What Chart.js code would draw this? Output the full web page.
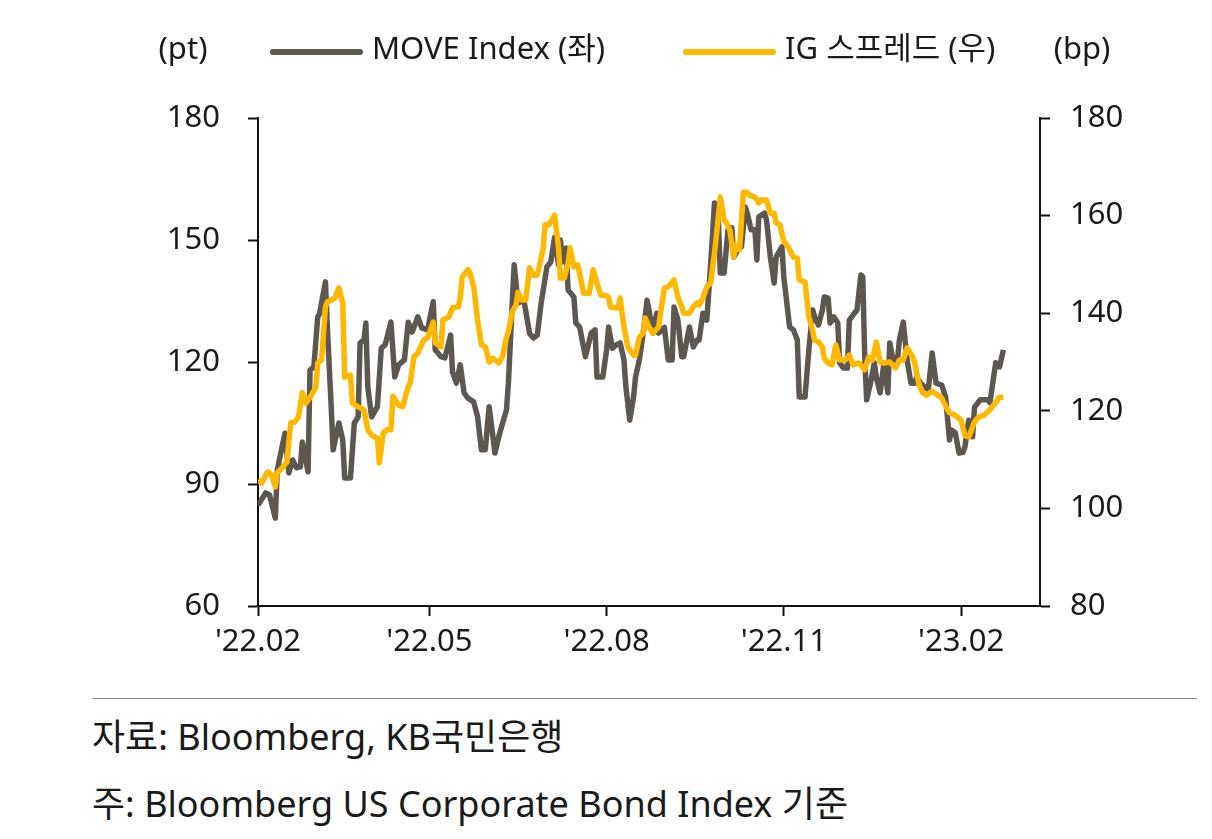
<!DOCTYPE html>
<html lang="ko">
<head>
<meta charset="utf-8">
<script src="https://cdn.jsdelivr.net/npm/chart.js@4.4.1/dist/chart.umd.min.js"></script>
<style>
  body { margin: 0; background: #fff; }
  #wrap { position: relative; width: 1212px; height: 839px; }
  #chart-box { position: absolute; left: 0; top: 0; width: 1212px; height: 690px; }
  #rule { position: absolute; left: 92px; top: 698px; width: 1105px; height: 0; border-top: 1.5px solid #8c8c8c; }
  .note { position: absolute; left: 92px; font-family: "Noto Sans", "Noto Sans CJK KR", sans-serif; font-size: 36px; color: #1a1a1a; white-space: nowrap; }
</style>
</head>
<body>
<div id="wrap">
  <div id="chart-box"><canvas id="chart-line"></canvas></div>
  <div id="rule"></div>
  <div class="note" style="top:708px">자료: Bloomberg, KB국민은행</div>
  <div class="note" style="top:775px">주: Bloomberg US Corporate Bond Index 기준</div>
</div>
<script>
// x = days since 2022-02-01
const tickDays = [0, 89, 181, 273, 365];
const tickLabels = ["'22.02", "'22.05", "'22.08", "'22.11", "'23.02"];

const moveDays = [0, 4, 6, 9, 10, 14, 16, 18, 20, 22, 23, 26, 27, 29, 31, 32, 35, 36, 38, 39,
  42, 44, 45, 48, 50, 52, 53, 55, 56, 57, 59, 62, 64, 66, 69, 71, 73, 76, 78, 80,
  83, 85, 88, 91, 92, 95, 97, 100, 101, 103, 105, 107, 109, 112, 114, 116, 118, 120, 122, 123,
  125, 127, 129, 130, 132, 133, 135, 138, 141, 143, 145, 147, 150, 152, 154, 156, 157, 158, 160, 161,
  164, 165, 167, 169, 170, 173, 175, 176, 179, 181, 182, 184, 186, 188, 190, 191, 193, 195, 196, 198,
  200, 202, 203, 205, 207, 208, 211, 213, 215, 216, 218, 220, 221, 224, 226, 228, 229, 231, 233, 234,
  236, 237, 239, 240, 242, 244, 246, 247, 250, 251, 253, 254, 256, 258, 259, 260, 263, 264, 266, 268,
  269, 271, 272, 273, 276, 278, 280, 281, 284, 286, 288, 289, 291, 293, 294, 296, 297, 299, 301, 302,
  304, 306, 307, 309, 311, 313, 314, 315, 316, 318, 320, 321, 323, 325, 327, 328, 330, 332, 333, 335,
  337, 339, 341, 342, 344, 346, 348, 350, 352, 355, 357, 359, 360, 362, 364, 366, 367, 369, 371, 372,
  375, 377, 379, 380, 383, 385, 387];
const moveValues = [84.8, 87.8, 87.3, 81.6, 93.4, 102.5, 92.7, 95.9, 94, 94.2, 100.3, 93, 118, 118.8, 131, 132, 139.7, 128.6, 109, 98.4,
  105, 100.8, 91.5, 91.5, 105, 106.5, 124.7, 125.4, 129.6, 113.9, 106.5, 109, 123.4, 124.2, 129.8, 116.3, 119.3, 120.5, 129.8, 127.4,
  131.1, 128.4, 127.9, 134.8, 123, 121.3, 121, 126.6, 117.5, 114.8, 119.3, 112.4, 111.1, 110.2, 106.5, 98.4, 98.4, 109, 101.6, 97.6,
  101.6, 105, 108.2, 114.8, 134.5, 143.9, 134.5, 135.3, 127, 125.9, 126.6, 134.5, 143.4, 144.6, 150.7, 143.9, 150, 144.6, 148, 137.7,
  136, 129.6, 128.6, 123.7, 121.3, 127.1, 127.9, 116.3, 116.3, 123, 128.6, 123.4, 124.2, 124.7, 120.5, 113.9, 105.7, 111.4, 116.3, 120.5,
  127.1, 135.2, 132.8, 127.1, 132, 127.1, 128.5, 120.5, 120.5, 133.5, 130.3, 121.3, 121.3, 128.6, 123.7, 125.4, 125.4, 132, 130.3, 137,
  151.2, 159.1, 154.9, 141.9, 141.9, 152.5, 153, 145.8, 148.3, 148.3, 158.1, 156.6, 152.5, 152.5, 145.1, 155.7, 156.6, 154.9, 145.8, 139.4,
  145.8, 147.5, 148.3, 140.9, 128.6, 127.9, 125.4, 111.4, 111.4, 123, 132.8, 131.1, 129.1, 132.8, 136, 135.7, 129.6, 131.1, 129.6, 119.8,
  118.5, 118.5, 130.3, 131.6, 132.8, 141.4, 140.9, 121.3, 110.7, 114.8, 119.8, 116.3, 112.4, 119.8, 112.4, 124.7, 119.8, 120.5, 125.4, 129.8,
  120.5, 114.8, 114.8, 116.3, 114.8, 113.9, 113.2, 122.2, 114.8, 114.3, 111.4, 100.8, 103.3, 102.6, 97.6, 97.8, 99.1, 105.7, 101.6, 108.9,
  110.7, 110.7, 110.7, 110, 119.8, 118.8, 123];

const igDays = [0, 2, 5, 7, 9, 10, 13, 15, 17, 19, 21, 23, 25, 27, 30, 31, 33, 35, 36, 40,
  42, 44, 45, 48, 49, 52, 55, 57, 59, 62, 63, 65, 67, 69, 70, 73, 75, 78, 79, 81,
  83, 86, 88, 91, 92, 95, 96, 99, 101, 104, 105, 106, 109, 110, 112, 114, 116, 118, 120, 122,
  125, 127, 129, 130, 132, 134, 135, 137, 139, 141, 143, 145, 148, 149, 151, 154, 156, 157, 159, 161,
  162, 164, 166, 168, 169, 172, 174, 177, 178, 180, 182, 183, 185, 187, 188, 190, 192, 195, 196, 198,
  200, 201, 203, 205, 208, 209, 211, 213, 216, 218, 220, 221, 224, 226, 228, 229, 231, 233, 235, 237,
  239, 240, 242, 243, 245, 247, 248, 250, 252, 254, 255, 258, 260, 261, 264, 266, 268, 269, 271, 273,
  274, 276, 278, 280, 281, 284, 286, 287, 289, 291, 293, 294, 296, 298, 300, 302, 305, 307, 309, 312,
  315, 317, 319, 321, 323, 325, 328, 331, 333, 335, 337, 340, 341, 343, 345, 347, 350, 353, 355, 358,
  359, 362, 365, 367, 369, 372, 374, 377, 380, 382, 385, 387];
const igValues = [105.8, 105.2, 107.5, 106.9, 104.4, 107.3, 108.5, 109.5, 117.5, 117.7, 118.7, 123.7, 121.6, 122.8, 124.7, 129.8, 130.4, 141.3, 142.3, 143.1,
  145.2, 142.1, 126.9, 127.3, 121.6, 120.8, 120.2, 116.1, 115, 114.4, 109.3, 115.5, 116.1, 116.1, 123, 121.2, 120.8, 124.9, 125.7, 131.1,
  131.8, 134.5, 134.9, 138.2, 133.9, 133.1, 138.6, 139.2, 141.1, 141.3, 143.1, 147.4, 148.9, 148.3, 145.4, 138.6, 133.5, 133.1, 130, 130.8,
  129.8, 131.1, 135.1, 136.2, 140.3, 141.7, 144.3, 142.7, 142.7, 149.3, 147.8, 147.8, 153, 158.1, 158.1, 160.1, 153.6, 147.2, 147.2, 150.3,
  153.4, 149.5, 149.9, 146.2, 144.1, 144.1, 148.9, 144.8, 143.7, 143.7, 143.3, 141.3, 141.1, 141.1, 143.1, 137.2, 133.1, 131.4, 131.4, 135.1,
  135.9, 139, 137.2, 135.9, 137.2, 140, 145.2, 145.4, 146.8, 143.3, 141.3, 140, 140, 141.3, 142.1, 141.7, 143.1, 145.4, 146.2, 152.3,
  159.7, 163.8, 159.1, 158.7, 157, 151.5, 154, 153, 164.8, 164.8, 164.2, 163.8, 162.6, 163.2, 163.2, 160.5, 160.5, 158.5, 158.1, 154.6,
  154.4, 153, 151.5, 151.3, 146.8, 146.4, 139.2, 138, 134.5, 134.1, 133.1, 130.8, 129.8, 129.4, 133.5, 130.4, 130.4, 131.4, 129.4, 129.8,
  128.4, 131, 130.4, 134.1, 130, 129.8, 130, 128.8, 130.4, 130.4, 132.9, 131, 129.8, 125.7, 123.7, 123.2, 124, 123.2, 122.6, 120.2,
  119.6, 119.1, 118.1, 115, 114.6, 117.7, 118.7, 119.1, 120.2, 121.2, 122.8, 122.8];

const moveColor = "#5e574f";
const igColor = "#ffb800";
const fontFamily = "'Noto Sans', 'Noto Sans CJK KR', sans-serif";

function toPoints(days, values) {
    return days.map((d, i) => ({ x: d, y: values[i] }));
}

// legend and unit labels above the plot
const topLabels = {
    id: 'topLabels',
    afterDraw(chart) {
        const c = chart.ctx;
        c.save();
        c.font = "31px " + fontFamily;
        c.fillStyle = "#1a1a1a";
        c.textBaseline = "middle";
        c.textAlign = "center";
        c.fillText("(pt)", 183, 50);
        c.fillText("(bp)", 1082, 50);

        const items = [
            { ds: chart.data.datasets[0], x: 273 },
            { ds: chart.data.datasets[1], x: 686 }
        ];
        items.forEach(it => {
            c.strokeStyle = it.ds.borderColor;
            c.lineWidth = 6;
            c.lineCap = "round";
            c.beginPath();
            c.moveTo(it.x, 52);
            c.lineTo(it.x + 87, 52);
            c.stroke();
            c.textAlign = "left";
            c.fillText(it.ds.label, it.x + 99, 50);
        });
        c.restore();
    }
};

const tickFont = { size: 31, family: fontFamily };

new Chart(document.getElementById("chart-line").getContext("2d"), {
    type: "line",
    data: {
        datasets: [{
            label: "MOVE Index (좌)",
            data: toPoints(moveDays, moveValues),
            borderColor: moveColor,
            borderWidth: 5.5,
            pointRadius: 0,
            tension: 0,
            borderJoinStyle: "round",
            yAxisID: "y",
            order: 2
        }, {
            label: "IG 스프레드 (우)",
            data: toPoints(igDays, igValues),
            borderColor: igColor,
            borderWidth: 5.5,
            pointRadius: 0,
            tension: 0,
            borderJoinStyle: "round",
            yAxisID: "y1",
            order: 1
        }]
    },
    options: {
        responsive: true,
        maintainAspectRatio: false,
        animation: false,
        layout: { padding: { top: 118 } },
        plugins: {
            legend: { display: false },
            tooltip: { enabled: false }
        },
        scales: {
            x: {
                type: "linear",
                min: 0,
                max: 406,
                afterBuildTicks: (scale) => {
                    scale.ticks = tickDays.map(v => ({ value: v }));
                },
                afterFit: (scale) => { scale.height = 84; },
                grid: {
                    drawOnChartArea: false,
                    drawTicks: true,
                    tickLength: 10,
                    tickWidth: 2,
                    tickColor: "#111"
                },
                border: { display: true, color: "#111", width: 2 },
                ticks: {
                    autoSkip: false,
                    maxRotation: 0,
                    padding: 8,
                    color: "#1a1a1a",
                    font: tickFont,
                    callback: (value, index) => tickLabels[index]
                }
            },
            y: {
                position: "left",
                min: 60,
                max: 180,
                afterFit: (scale) => { scale.width = 258; },
                grid: {
                    drawOnChartArea: false,
                    tickLength: 10,
                    tickWidth: 2,
                    tickColor: "#111"
                },
                border: { display: true, color: "#111", width: 2 },
                ticks: {
                    stepSize: 30,
                    padding: 28,
                    color: "#1a1a1a",
                    font: tickFont
                }
            },
            y1: {
                position: "right",
                min: 80,
                max: 180,
                afterFit: (scale) => { scale.width = 172; },
                grid: {
                    drawOnChartArea: false,
                    tickLength: 10,
                    tickWidth: 2,
                    tickColor: "#111"
                },
                border: { display: true, color: "#111", width: 2 },
                ticks: {
                    stepSize: 20,
                    padding: 20,
                    color: "#1a1a1a",
                    font: tickFont
                }
            }
        }
    },
    plugins: [topLabels]
});
</script>
</body>
</html>
